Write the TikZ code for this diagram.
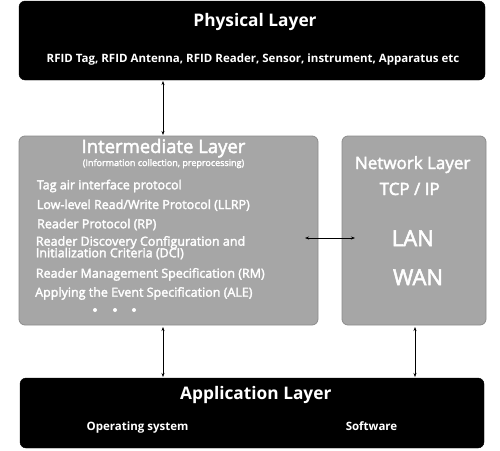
\documentclass[tikz,border=0pt]{standalone}
\usepackage{fontspec}
\setmainfont{Open Sans}
\newfontfamily\medfont[FakeBold=2.5]{Open Sans}
\usetikzlibrary{arrows.meta}
\definecolor{boxgrey}{HTML}{A6A6A6}
\definecolor{edgegrey}{HTML}{8C8C8C}
\begin{document}
\begin{tikzpicture}[x=1pt,y=-1pt,
  blackbox/.style={draw=black,fill=black,rounded corners=6pt},
  greybox/.style={draw=edgegrey,fill=boxgrey,rounded corners=6pt,line width=0.8pt},
  wtext/.style={text=white,inner sep=0pt,anchor=base},
  item/.style={text=white,inner sep=0pt,anchor=base west,font=\medfont\fontsize{12.5}{12.5}\selectfont},
  link/.style={{Stealth[length=4pt,width=3pt]}-{Stealth[length=4pt,width=3pt]},line width=0.6pt}]
\useasboundingbox (0,0) rectangle (500,450);
% boxes
\draw[blackbox] (19,1) rectangle (485,80);
\draw[greybox] (19,136) rectangle (318,325);
\draw[greybox] (342,136) rectangle (486,325);
\draw[blackbox] (20,378) rectangle (484,448);
% physical
\node[wtext,font=\fontsize{17.3}{19}\selectfont\bfseries] (phyT) at (255,26) {Physical Layer};
\node[wtext,font=\fontsize{11.5}{13}\selectfont\bfseries] (phyD) at (253,62) {RFID Tag, RFID Antenna, RFID Reader, Sensor, instrument, Apparatus etc};
% intermediate
\node[wtext,font=\medfont\fontsize{18.5}{20}\selectfont] (intT) at (163.5,153) {Intermediate Layer};
\node[wtext,font=\medfont\fontsize{9}{10}\selectfont] (intS) at (163.5,166) {(Information collection, preprocessing)};
\node[item] (i1) at (36.7,189.3) {Tag air interface protocol};
\node[item] (i2) at (36.7,209) {Low-level Read/Write Protocol (LLRP)};
\node[item] (i3) at (37,228.3) {Reader Protocol (RP)};
\node[item] (i4) at (35.7,245.7) {Reader Discovery Configuration and};
\node[item] (i4b) at (35.7,257.3) {Initialization Criteria (DCI)};
\node[item] (i5) at (35.7,277.7) {Reader Management Specification (RM)};
\node[item] (i6) at (35,296.7) {Applying the Event Specification (ALE)};
\foreach \xx in {95,115,134} \fill[white] (\xx,310) circle (2pt);
% network
\node[wtext,font=\medfont\fontsize{17}{19}\selectfont] (netT) at (412.7,169) {Network Layer};
\node[wtext,font=\medfont\fontsize{17}{19}\selectfont] (tcp) at (409.7,195) {TCP / IP};
\node[wtext,font=\medfont\fontsize{22}{24}\selectfont] (lan) at (412.8,246) {LAN};
\node[wtext,font=\medfont\fontsize{22}{24}\selectfont] (wan) at (418,285) {WAN};
% application
\node[wtext,font=\fontsize{17.3}{19}\selectfont\bfseries] (appT) at (255.8,399) {Application Layer};
\node[wtext,font=\fontsize{11.5}{13}\selectfont\bfseries] (os) at (137.5,430.5) {Operating system};
\node[wtext,font=\fontsize{11.5}{13}\selectfont\bfseries] (sw) at (371.5,430.5) {Software};
% connectors
\coordinate (a1) at (163,81);
\coordinate (a2) at (163,135);
\draw[link] (a1) -- (a2);
\coordinate (h1) at (305,238);
\coordinate (h2) at (355,238);
\draw[link] (h1) -- (h2);
\coordinate (b1) at (163,327);
\coordinate (b2) at (163,377);
\draw[link] (b1) -- (b2);
\coordinate (c1) at (415,327);
\coordinate (c2) at (415,377);
\draw[link] (c1) -- (c2);
\end{tikzpicture}
\end{document}
